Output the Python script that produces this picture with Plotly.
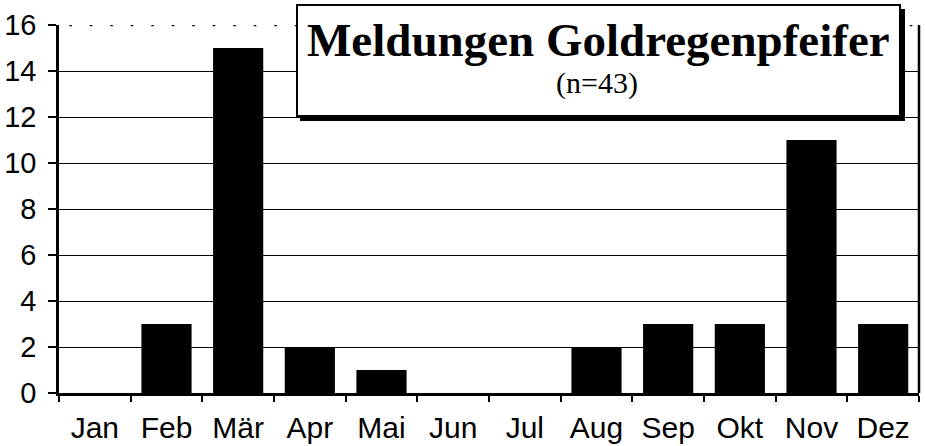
import plotly.graph_objects as go

months = ["Jan", "Feb", "Mär", "Apr", "Mai", "Jun", "Jul", "Aug", "Sep", "Okt", "Nov", "Dez"]
counts = [0, 3, 15, 2, 1, 0, 0, 2, 3, 3, 11, 3]
y_ticks = [0, 2, 4, 6, 8, 10, 12, 14, 16]
title_main = "Meldungen Goldregenpfeifer"
title_sub = "(n=43)"

W, H = 925, 446
L, R, T, B = 59, 6, 25, 53
pw, ph = W - L - R, H - T - B

def px(x):
    return (x - L) / pw

def py(y):
    return (H - B - y) / ph

fig = go.Figure()
fig.add_trace(go.Bar(x=months, y=counts, marker=dict(color="black", line=dict(width=0)),
                     width=0.7))

shapes = []
# dotted top line at 16
shapes.append(dict(type="line", xref="x domain", yref="y", x0=0.012, x1=1, y0=16, y1=16,
                   line=dict(color="black", width=2.5, dash="2.5px,18px")))
# right border
shapes.append(dict(type="line", xref="x domain", yref="y", x0=1, x1=1, y0=0, y1=16,
                   line=dict(color="black", width=2.5)))
# title box shadow
shapes.append(dict(type="rect", xref="paper", yref="paper",
                   x0=px(300), x1=px(905), y0=py(121), y1=py(9),
                   fillcolor="black", line=dict(width=0)))
# title box
shapes.append(dict(type="rect", xref="paper", yref="paper",
                   x0=px(297), x1=px(900), y0=py(116), y1=py(5),
                   fillcolor="white", line=dict(color="black", width=2)))

fig.update_layout(
    width=W, height=H,
    margin=dict(l=L, r=R, t=T, b=B, autoexpand=False),
    paper_bgcolor="white", plot_bgcolor="white",
    showlegend=False,
    bargap=0.3,
    shapes=shapes,
    font=dict(family="Liberation Sans, Arial", color="black", size=29),
    annotations=[
        dict(text="<b>" + title_main + "</b>", xref="paper", yref="paper",
             x=px(598), y=py(40), xanchor="center", yanchor="middle", showarrow=False,
             font=dict(family="Liberation Serif, Times New Roman", size=47, color="black")),
        dict(text=title_sub, xref="paper", yref="paper",
             x=px(597), y=py(83), xanchor="center", yanchor="middle", showarrow=False,
             font=dict(family="Liberation Serif, Times New Roman", size=30, color="black")),
    ],
)
fig.update_xaxes(
    showline=True, linecolor="black", linewidth=2.5,
    ticks="outside", tickson="boundaries", ticklen=6, tickwidth=1.5, tickcolor="black",
    showgrid=False, ticklabelstandoff=6, automargin=False,
    tickfont=dict(size=30),
)
fig.update_yaxes(
    range=[0, 16], tickvals=y_ticks, ticktext=[str(v) for v in y_ticks],
    showline=True, linecolor="black", linewidth=2.5,
    ticks="outside", ticklen=8, tickwidth=1.5, tickcolor="black",
    showgrid=True, gridcolor="black", gridwidth=1,
    zeroline=False, ticklabelstandoff=6, automargin=False,
    tickfont=dict(size=29),
)
fig.write_html("out.html", config={"displayModeBar": False},
               post_script="document.body.style.margin='0';document.body.style.overflow='hidden';")
